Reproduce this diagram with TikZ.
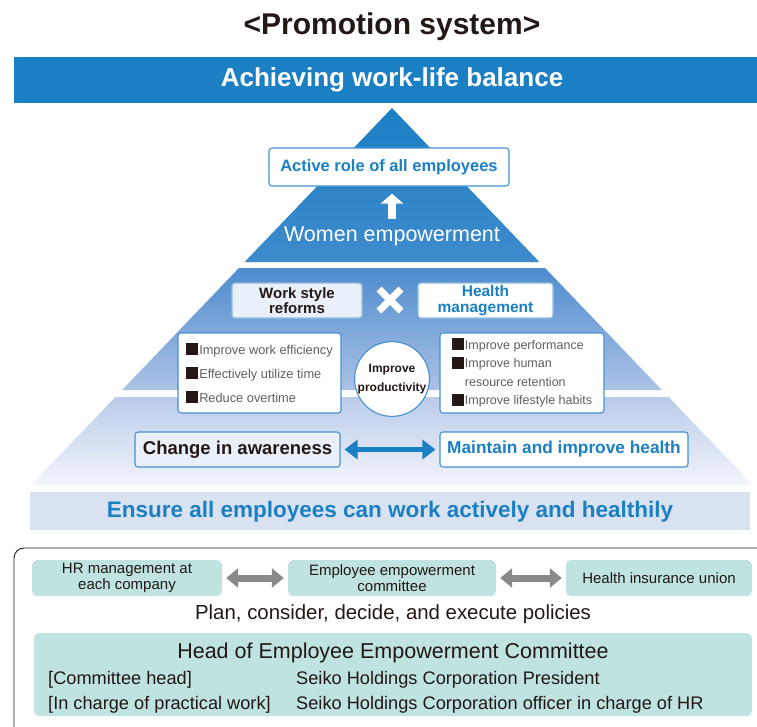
\documentclass[tikz,border=0pt]{standalone}
\usepackage{fontspec}
\setmainfont{Liberation Sans}
\usetikzlibrary{arrows.meta}
\definecolor{pyrblue}{RGB}{27,127,196}
\definecolor{edgeblue}{RGB}{70,145,210}
\definecolor{inkblack}{RGB}{35,24,21}
\definecolor{listgray}{RGB}{95,95,95}
\definecolor{paleblue}{RGB}{234,240,249}
\definecolor{bandblue}{RGB}{217,226,241}
\definecolor{tealbox}{RGB}{191,227,224}
\definecolor{arrowgray}{RGB}{138,138,138}
\newcommand{\sqbullet}{{\color{inkblack}\rule[-1pt]{12pt}{12pt}}\hspace{1pt}}

\tikzset{
  bluebox/.style={draw=edgeblue,line width=1.1pt,rounded corners=3pt,fill=white,
    inner sep=0pt,align=center},
  tealnode/.style={fill=tealbox,rounded corners=5pt,inner sep=0pt,align=center,
    font=\fontsize{15}{16}\selectfont,text=inkblack},
  grayarrow/.style={arrowgray,line width=7pt,
    {Triangle[length=12pt,width=19pt]}-{Triangle[length=12pt,width=19pt]}},
}

\begin{document}
\begin{tikzpicture}[x=1pt,y=-1pt]
  \useasboundingbox (0,0) rectangle (757,726);
  \node[font=\bfseries\fontsize{30}{32}\selectfont,text=inkblack] (title) at (392,27)
    {<Promotion system>};
  \fill[pyrblue] (14,57) rectangle (757,103);
  \node[font=\bfseries\fontsize{26}{28}\selectfont,text=white] (wlb) at (392,80)
    {Achieving work-life balance};

  % pyramid tiers
  \shade[top color=pyrblue,bottom color={rgb,255:red,62;green,139;blue,205}]
    (392,108) -- (539.4,262) -- (244.6,262) -- cycle;
  \shade[top color={rgb,255:red,78;green,140;blue,206},
         bottom color={rgb,255:red,172;green,194;blue,229}]
    (238.9,268) -- (545.1,268) -- (661.9,390) -- (122.1,390) -- cycle;
  \shade[top color={rgb,255:red,186;green,203;blue,233},
         bottom color={rgb,255:red,242;green,245;blue,251}]
    (115.4,397) -- (668.6,397) -- (752.8,485) -- (31.2,485) -- cycle;

  % top tier
  \node[bluebox,minimum width=240pt,minimum height=38pt,text=pyrblue,
    font=\bfseries\fontsize{16.5}{18}\selectfont] (active) at (389,167)
    {Active role of all employees};
  \node[font=\fontsize{21.5}{24}\selectfont,text=white] (women) at (392,236)
    {Women empowerment};
  \draw[white,line width=8pt,-{Triangle[length=10pt,width=22pt]},
    shorten <=4pt,shorten >=7pt] (women.north) -- (women.north |- active.south);

  % middle tier
  \node[bluebox,fill=paleblue,draw=edgeblue!60,minimum width=130pt,minimum height=35pt,
    text=inkblack,font=\bfseries\fontsize{15}{15.5}\selectfont] (reform) at (297,300.5)
    {Work style\\reforms};
  \node[bluebox,draw=edgeblue!60,minimum width=135pt,minimum height=35pt,text=pyrblue,
    font=\bfseries\fontsize{15.5}{15.5}\selectfont] (healthmgmt) at (485.5,300.5)
    {Health\\management};
  \coordinate (cross) at (390,300);
  \draw[white,line width=7pt] ([shift={(-11,-11)}]cross) -- ([shift={(11,11)}]cross);
  \draw[white,line width=7pt] ([shift={(-11,11)}]cross) -- ([shift={(11,-11)}]cross);

  \node[bluebox,minimum width=163pt,minimum height=80pt,align=left,text=listgray,
    font=\fontsize{12.8}{24}\selectfont] (worklist) at (259.5,373)
    {\sqbullet Improve work efficiency\\\sqbullet Effectively utilize time\\
     \sqbullet Reduce overtime};
  \node[bluebox,minimum width=164pt,minimum height=80pt,align=left,text=listgray,
    font=\fontsize{12.5}{18.5}\selectfont] (healthlist) at (522,373)
    {\sqbullet Improve performance\\\sqbullet Improve human\\
     \hspace*{13pt}resource retention\\\sqbullet Improve lifestyle habits};
  \node[circle,draw=edgeblue,line width=1.1pt,fill=white,minimum size=70pt,inner sep=0pt,
    align=center,text=inkblack,font=\bfseries\fontsize{12}{19}\selectfont] (prod)
    at (392,379) {Improve\\productivity};

  % bottom tier
  \node[bluebox,fill=paleblue,minimum width=205pt,minimum height=35pt,text=inkblack,
    font=\bfseries\fontsize{18.5}{20}\selectfont] (aware) at (237.5,449.5)
    {Change in awareness};
  \node[bluebox,minimum width=248pt,minimum height=35pt,text=pyrblue,
    font=\bfseries\fontsize{17.3}{20}\selectfont] (maintain) at (564,449.5)
    {Maintain and improve health};
  \draw[pyrblue,line width=5pt,shorten <=4pt,shorten >=4pt,
    {Triangle[length=13pt,width=19pt]}-{Triangle[length=13pt,width=19pt]}]
    (aware) -- (maintain);

  \fill[bandblue] (30,492) rectangle (750,530);
  \node[font=\bfseries\fontsize{22.5}{24}\selectfont,text=pyrblue] (ensure) at (390,512)
    {Ensure all employees can work actively and healthily};

  % organisation panel
  \draw[inkblack,line width=0.9pt,rounded corners=10pt] (14,548) rectangle (790,760);
  \node[tealnode,minimum width=190pt,minimum height=36pt] (hr) at (127,578)
    {HR management at\\each company};
  \node[tealnode,minimum width=208pt,minimum height=36pt] (eec) at (392,578)
    {Employee empowerment\\committee};
  \node[tealnode,minimum width=186pt,minimum height=36pt] (union) at (659,578)
    {Health insurance union};
  \draw[grayarrow,shorten <=4pt,shorten >=4pt] (hr) -- (eec);
  \draw[grayarrow,shorten <=4pt,shorten >=4pt] (eec) -- (union);
  \node[font=\fontsize{20.4}{22}\selectfont,text=inkblack] (plan) at (393,614)
    {Plan, consider, decide, and execute policies};

  \node[tealnode,minimum width=718pt,minimum height=83pt] (head) at (393,674.5) {};
  \node[font=\fontsize{21.5}{23}\selectfont,text=inkblack] (headtitle) at (393,653)
    {Head of Employee Empowerment Committee};
  \node[anchor=west,inner sep=0pt,font=\fontsize{18.2}{20}\selectfont,text=inkblack]
    (role1) at (48,680) {[Committee head]};
  \node[anchor=west,inner sep=0pt,font=\fontsize{18.2}{20}\selectfont,text=inkblack]
    (role2) at (48,705) {[In charge of practical work]};
  \node[anchor=west,inner sep=0pt,font=\fontsize{18.2}{20}\selectfont,text=inkblack]
    (name1) at (296,680) {Seiko Holdings Corporation President};
  \node[anchor=west,inner sep=0pt,font=\fontsize{18.2}{20}\selectfont,text=inkblack]
    (name2) at (296,705) {Seiko Holdings Corporation officer in charge of HR};
\end{tikzpicture}
\end{document}
